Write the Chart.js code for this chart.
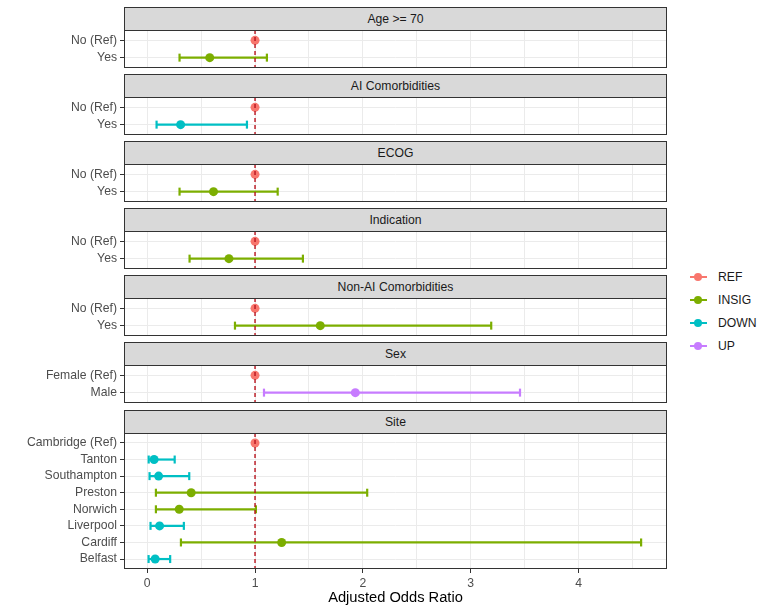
<!DOCTYPE html>
<html>
<head>
<meta charset="utf-8">
<script src="https://cdn.jsdelivr.net/npm/chart.js@4.4.1/dist/chart.umd.min.js"></script>
<style>
  html, body { margin: 0; padding: 0; background: #fff; }
  body { width: 771px; height: 613px; position: relative; overflow: hidden;
         font-family: "Liberation Sans", Arial, sans-serif; }
  .strip { position: absolute; left: 124px; width: 543px; height: 24px; box-sizing: border-box;
           border: 1px solid #333; background: #D9D9D9; color: #1A1A1A; font-size: 12.2px;
           line-height: 22px; text-align: center; }
  canvas { position: absolute; left: 0; }
  .legend { position: absolute; left: 688px; top: 266px; }
  .item { position: relative; height: 23px; width: 80px; }
  .key-line { position: absolute; left: 2px; top: 10px; width: 17px; height: 2px; }
  .key-dot { position: absolute; left: 6px; top: 7px; width: 8px; height: 8px; border-radius: 50%; }
  .key-text { position: absolute; left: 30px; top: 3px; font-size: 12.2px; color: #1A1A1A; line-height: 16px; }
</style>
</head>
<body>
<script>
// ---------------- data ----------------
const panelTitles = ["Age >= 70", "AI Comorbidities", "ECOG", "Indication", "Non-AI Comorbidities", "Sex", "Site"];

const ageLabels = ["No (Ref)", "Yes"];
const ageEst    = [1, 0.58];
const ageLow    = [null, 0.30];
const ageHigh   = [null, 1.11];
const ageGroup  = ["REF", "INSIG"];

const aiLabels = ["No (Ref)", "Yes"];
const aiEst    = [1, 0.31];
const aiLow    = [null, 0.087];
const aiHigh   = [null, 0.925];
const aiGroup  = ["REF", "DOWN"];

const ecogLabels = ["No (Ref)", "Yes"];
const ecogEst    = [1, 0.615];
const ecogLow    = [null, 0.30];
const ecogHigh   = [null, 1.21];
const ecogGroup  = ["REF", "INSIG"];

const indLabels = ["No (Ref)", "Yes"];
const indEst    = [1, 0.758];
const indLow    = [null, 0.393];
const indHigh   = [null, 1.444];
const indGroup  = ["REF", "INSIG"];

const nonAiLabels = ["No (Ref)", "Yes"];
const nonAiEst    = [1, 1.605];
const nonAiLow    = [null, 0.814];
const nonAiHigh   = [null, 3.19];
const nonAiGroup  = ["REF", "INSIG"];

const sexLabels = ["Female (Ref)", "Male"];
const sexEst    = [1, 1.93];
const sexLow    = [null, 1.083];
const sexHigh   = [null, 3.457];
const sexGroup  = ["REF", "UP"];

const siteLabels = ["Cambridge (Ref)", "Tanton", "Southampton", "Preston", "Norwich", "Liverpool", "Cardiff", "Belfast"];
const siteEst    = [1, 0.064, 0.106, 0.408, 0.297, 0.115, 1.247, 0.074];
const siteLow    = [null, 0.014, 0.022, 0.081, 0.081, 0.031, 0.313, 0.013];
const siteHigh   = [null, 0.255, 0.39, 2.04, 1.008, 0.34, 4.58, 0.213];
const siteGroup  = ["REF", "DOWN", "DOWN", "INSIG", "INSIG", "DOWN", "INSIG", "DOWN"];

const legendLabels = ["REF", "INSIG", "DOWN", "UP"];
const xTickLabels  = [0, 1, 2, 3, 4];
const xMinorTicks  = [0.5, 1.5, 2.5, 3.5, 4.5];
const refValue = 1;
const xTitle = "Adjusted Odds Ratio";

// ---------------- styles ----------------
const groupColors = { REF: "#F8766D", INSIG: "#7CAE00", DOWN: "#00BFC4", UP: "#C77CFF" };
const FONT = "'Liberation Sans', Arial, sans-serif";

function noPad(s) { s.paddingTop = 0; s.paddingBottom = 0; s.paddingLeft = 0; s.paddingRight = 0; }

const panelPlugin = {
  id: "panelDecor",
  afterDatasetsDraw(chart) {
    const { ctx, chartArea: a, scales: { x } } = chart;
    const px = x.getPixelForValue(refValue);
    ctx.save();
    ctx.strokeStyle = "#B8141E";
    ctx.lineWidth = 1.4;
    ctx.setLineDash([4, 3]);
    ctx.beginPath();
    ctx.moveTo(px, a.top);
    ctx.lineTo(px, a.bottom);
    ctx.stroke();
    ctx.restore();
  },
  afterDraw(chart) {
    const { ctx, chartArea: a } = chart;
    ctx.save();
    ctx.strokeStyle = "#333333";
    ctx.lineWidth = 1;
    ctx.strokeRect(a.left + 0.5, a.top + 0.5, a.right - a.left - 1, a.bottom - a.top - 1);
    ctx.restore();
  }
};

function makePanel(title, labels, est, low, high, group, top, areaH, isLast) {
  const strip = document.createElement("div");
  strip.className = "strip";
  strip.style.top = top + "px";
  strip.textContent = title;
  document.body.appendChild(strip);

  const canvasTop = top + 23;
  const h = isLast ? (613 - canvasTop) : areaH;
  const c = document.createElement("canvas");
  c.width = 667; c.height = h;
  c.style.top = canvasTop + "px";
  c.style.width = "667px"; c.style.height = h + "px";
  document.body.appendChild(c);

  const datasets = [];
  datasets.push({
    data: est.map((v, i) => ({ x: v, y: i })),
    pointRadius: 4.5,
    pointBackgroundColor: group.map(g => groupColors[g]),
    pointBorderWidth: 0,
    showLine: false
  });
  labels.forEach((lab, i) => {
    if (low[i] == null) return;
    const col = groupColors[group[i]];
    datasets.push({
      data: [{ x: low[i], y: i }, { x: high[i], y: i }],
      showLine: true,
      borderColor: col,
      borderWidth: 2.2,
      pointStyle: "line",
      pointRotation: 90,
      pointRadius: 4,
      pointBorderWidth: 2.2,
      pointBorderColor: col,
      pointBackgroundColor: col,
      fill: false
    });
  });

  const gridValues = xTickLabels.concat(xMinorTicks).sort((a, b) => a - b);

  new Chart(c, {
    type: "scatter",
    data: { datasets },
    plugins: [panelPlugin],
    options: {
      responsive: false,
      animation: false,
      events: [],
      devicePixelRatio: 1,
      layout: { padding: 0, autoPadding: false },
      plugins: { legend: { display: false }, tooltip: { enabled: false } },
      scales: {
        x: {
          type: "linear",
          min: -0.215,
          max: 4.82,
          afterBuildTicks: s => { s.ticks = gridValues.map(v => ({ value: v })); },
          afterFit: s => { s.height = isLast ? 44 : 0; noPad(s); },
          grid: {
            color: "#EBEBEB",
            lineWidth: 1,
            drawTicks: isLast,
            tickLength: 4,
            tickColor: ctx => (ctx.tick && Number.isInteger(ctx.tick.value)) ? "#333333" : "rgba(0,0,0,0)"
          },
          border: { display: false },
          ticks: {
            display: isLast,
            autoSkip: false,
            maxRotation: 0,
            padding: 3,
            color: "#4D4D4D",
            font: { size: 12.2, family: FONT },
            callback: v => Number.isInteger(v) ? String(v) : ""
          },
          title: {
            display: isLast,
            text: xTitle,
            color: "#000000",
            font: { size: 14.7, family: FONT },
            padding: { top: 0, bottom: 6 }
          }
        },
        y: {
          type: "linear",
          reverse: true,
          min: -0.6,
          max: labels.length - 1 + 0.6,
          afterBuildTicks: s => { s.ticks = labels.map((_, i) => ({ value: i })); },
          afterFit: s => { s.width = 124; noPad(s); },
          grid: { color: "#EBEBEB", lineWidth: 1, drawTicks: true, tickLength: 4, tickColor: "#333333" },
          border: { display: false },
          ticks: {
            autoSkip: false,
            padding: 3,
            color: "#4D4D4D",
            font: { size: 12.2, family: FONT },
            callback: v => labels[v]
          }
        }
      }
    }
  });
}

const panels = [
  [ageLabels, ageEst, ageLow, ageHigh, ageGroup],
  [aiLabels, aiEst, aiLow, aiHigh, aiGroup],
  [ecogLabels, ecogEst, ecogLow, ecogHigh, ecogGroup],
  [indLabels, indEst, indLow, indHigh, indGroup],
  [nonAiLabels, nonAiEst, nonAiLow, nonAiHigh, nonAiGroup],
  [sexLabels, sexEst, sexLow, sexHigh, sexGroup],
  [siteLabels, siteEst, siteLow, siteHigh, siteGroup]
];

panels.forEach((p, i) => {
  const isLast = i === panels.length - 1;
  const top = isLast ? 410 : 7 + 67 * i;
  makePanel(panelTitles[i], p[0], p[1], p[2], p[3], p[4], top, 38, isLast);
});

// ---------------- legend ----------------
const leg = document.createElement("div");
leg.className = "legend";
legendLabels.forEach(g => {
  const it = document.createElement("div"); it.className = "item";
  const ln = document.createElement("div"); ln.className = "key-line"; ln.style.background = groupColors[g];
  const dt = document.createElement("div"); dt.className = "key-dot"; dt.style.background = groupColors[g];
  const tx = document.createElement("div"); tx.className = "key-text"; tx.textContent = g;
  it.appendChild(ln); it.appendChild(dt); it.appendChild(tx);
  leg.appendChild(it);
});
document.body.appendChild(leg);
</script>
</body>
</html>
